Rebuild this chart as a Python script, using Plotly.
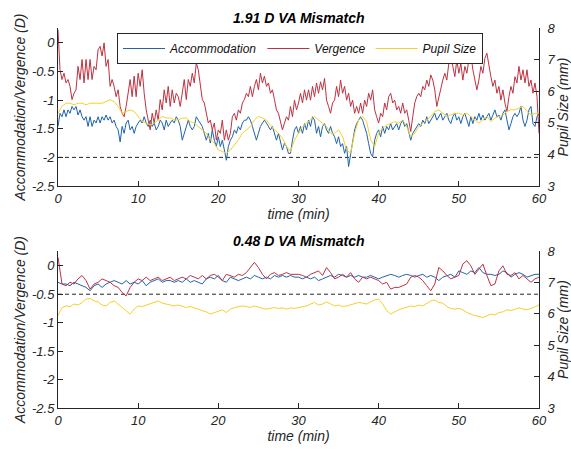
import plotly.graph_objects as go

# ---------------- data ----------------
t_fine = [i * 0.25 for i in range(241)]
t_coarse = [i * 0.5 for i in range(121)]

# Top panel: 1.91 D VA mismatch
top_vergence = [
    0.23, -0.47, -0.64, -0.53, -0.70, -0.64, -0.76, -0.99, -0.88, -0.82, -0.41, -0.64, -0.29, -0.70, -0.29, -0.64, -0.29, -0.64, -0.41, -0.47,
    -0.12, -0.06, -0.23, 0.0, -0.41, -0.29, -0.76, -0.64, -0.76, -0.94, -0.82, -1.11, -1.23, -1.29, -1.11, -0.88, -0.64, -0.94, -0.58, -0.94,
    -0.53, -0.76, -0.47, -0.88, -1.17, -1.35, -1.52, -1.23, -1.40, -1.17, -1.35, -0.99, -1.17, -0.82, -1.05, -0.76, -1.11, -0.82, -1.05, -0.88,
    -0.94, -1.11, -0.88, -0.64, -0.99, -0.64, -0.76, -0.53, -0.70, -0.35, -0.47, -0.76, -0.99, -1.05, -1.23, -1.40, -1.35, -1.52, -1.40, -1.70,
    -1.52, -1.58, -1.35, -1.70, -1.52, -1.70, -1.58, -1.29, -1.23, -1.35, -1.17, -1.23, -1.05, -0.99, -0.88, -0.94, -0.76, -0.94, -0.76, -0.64,
    -0.82, -0.53, -0.70, -0.58, -0.76, -0.70, -0.88, -0.82, -0.99, -1.17, -1.23, -1.40, -1.52, -1.40, -1.29, -1.35, -1.11, -1.29, -1.00, -1.17,
    -1.05, -0.88, -1.05, -0.82, -1.00, -0.82, -1.00, -0.76, -0.94, -0.70, -0.88, -0.68, -0.82, -0.62, -1.00, -1.11, -1.23, -1.05, -1.00, -0.76,
    -0.94, -0.65, -0.88, -0.76, -1.00, -0.88, -1.11, -1.00, -1.23, -1.11, -1.23, -1.05, -1.23, -1.00, -1.11, -0.88, -1.00, -0.82, -1.17, -1.29,
    -1.40, -1.23, -1.29, -1.05, -1.17, -0.94, -0.88, -1.05, -1.00, -1.17, -1.11, -1.23, -1.05, -1.23, -1.17, -1.35, -1.55, -1.29, -1.05, -0.94,
    -0.88, -0.94, -0.76, -0.82, -0.65, -0.76, -0.56, -0.65, -0.82, -1.11, -0.94, -0.82, -0.65, -0.53, -0.65, -0.36, -0.24, -0.41, -0.59, -0.30,
    -0.53, -0.36, -0.65, -0.41, -0.53, -0.30, -0.21, -0.47, -0.65, -0.82, -0.65, -0.41, -0.53, -0.27, -0.18, -0.41, -0.59, -0.76, -0.65, -0.88,
    -0.76, -1.00, -0.82, -1.05, -1.20, -0.94, -0.76, -0.88, -0.59, -0.70, -0.41, -0.65, -0.47, -0.70, -0.47, -0.76, -0.65, -0.88, -0.70, -0.94,
    -1.58,
]
top_accommodation = [
    -1.46, -1.23, -1.29, -1.17, -1.29, -1.17, -1.23, -1.11, -1.17, -1.11, -1.26, -1.17, -1.29, -1.35, -1.29, -1.46, -1.29, -1.46, -1.35, -1.40,
    -1.29, -1.40, -1.29, -1.35, -1.26, -1.35, -1.29, -1.40, -1.35, -1.46, -1.52, -1.73, -1.46, -1.58, -1.40, -1.35, -1.52, -1.46, -1.58, -1.46,
    -1.40, -1.35, -1.40, -1.29, -1.40, -1.46, -1.35, -1.46, -1.40, -1.52, -1.46, -1.35, -1.40, -1.52, -1.35, -1.46, -1.40, -1.35, -1.40, -1.29,
    -1.35, -1.46, -1.70, -1.58, -1.46, -1.35, -1.46, -1.52, -1.46, -1.29, -1.35, -1.40, -1.46, -1.58, -1.70, -1.58, -1.75, -1.52, -1.70, -1.81,
    -1.64, -1.81, -1.70, -1.87, -2.05, -1.81, -1.70, -1.64, -1.52, -1.58, -1.46, -1.52, -1.40, -1.35, -1.35, -1.29, -1.35, -1.46, -1.58, -1.70,
    -1.58, -1.46, -1.40, -1.35, -1.40, -1.46, -1.52, -1.46, -1.58, -1.70, -1.58, -1.75, -1.87, -1.75, -1.81, -1.93, -1.93, -1.70, -1.52, -1.46,
    -1.58, -1.46, -1.58, -1.41, -1.52, -1.35, -1.46, -1.29, -1.35, -1.58, -1.46, -1.64, -1.46, -1.41, -1.52, -1.58, -1.46, -1.58, -1.64, -1.76,
    -1.64, -1.81, -1.76, -1.93, -1.81, -2.16, -1.93, -1.70, -1.52, -1.41, -1.35, -1.29, -1.35, -1.46, -1.58, -1.76, -1.93, -1.99, -1.70, -1.58,
    -1.52, -1.64, -1.46, -1.58, -1.46, -1.52, -1.41, -1.52, -1.46, -1.41, -1.52, -1.41, -1.35, -1.46, -1.41, -1.58, -1.70, -1.58, -1.52, -1.46,
    -1.41, -1.46, -1.35, -1.41, -1.29, -1.41, -1.35, -1.29, -1.23, -1.35, -1.29, -1.23, -1.35, -1.29, -1.23, -1.35, -1.41, -1.29, -1.23, -1.35,
    -1.29, -1.41, -1.29, -1.23, -1.35, -1.46, -1.29, -1.41, -1.29, -1.35, -1.23, -1.35, -1.26, -1.35, -1.29, -1.23, -1.35, -1.26, -1.17, -1.29,
    -1.26, -1.35, -1.23, -1.17, -1.35, -1.52, -1.41, -1.29, -1.23, -1.29, -1.23, -1.11, -1.35, -1.46, -1.35, -1.17, -1.11, -1.41, -1.46, -1.29,
    -1.23,
]
top_pupil = [
    5.30, 5.52, 5.62, 5.62, 5.57, 5.62, 5.62, 5.57, 5.62, 5.62,
    5.62, 5.62, 5.67, 5.73, 5.67, 5.52, 5.30, 5.36, 5.41, 5.36,
    5.20, 5.04, 4.99, 4.93, 4.99, 5.09, 5.20, 5.15, 5.15, 5.09,
    5.09, 5.15, 5.15, 5.04, 4.99, 4.88, 4.78, 4.67, 4.46, 4.35,
    4.14, 4.09, 4.04, 4.14, 4.30, 4.46, 4.67, 4.78, 4.88, 5.09,
    5.20, 5.15, 5.09, 4.93, 4.78, 4.67, 4.51, 4.25, 4.09, 4.46,
    4.67, 4.88, 4.99, 5.09, 5.20, 5.09, 4.99, 4.88, 4.67, 4.67,
    4.78, 4.56, 4.14, 4.04, 4.67, 5.09, 5.20, 5.04, 4.46, 4.25,
    4.67, 4.83, 4.93, 4.99, 5.04, 4.99, 5.09, 4.88, 4.56, 4.67,
    4.88, 4.99, 5.09, 5.20, 5.36, 5.41, 5.30, 5.20, 5.25, 5.30,
    5.30, 5.25, 5.30, 5.20, 5.09, 4.99, 5.09, 5.20, 5.04, 5.15,
    5.20, 5.25, 5.36, 5.41, 5.41, 5.46, 5.52, 5.36, 5.25, 5.30,
    5.30,
]

# Bottom panel: 0.48 D VA mismatch
bottom_vergence = [
    0.15, -0.32, -0.35, -0.29, -0.32, -0.23, -0.17, -0.26, -0.41, -0.32,
    -0.29, -0.23, -0.26, -0.29, -0.35, -0.38, -0.47, -0.53, -0.38, -0.29,
    -0.23, -0.26, -0.20, -0.26, -0.23, -0.20, -0.26, -0.23, -0.20, -0.26,
    -0.23, -0.20, -0.23, -0.17, -0.20, -0.23, -0.17, -0.23, -0.17, -0.15,
    -0.20, -0.26, -0.15, -0.17, -0.20, -0.15, -0.17, -0.12, -0.03, 0.06,
    -0.03, -0.15, -0.23, -0.15, -0.12, -0.17, -0.15, -0.12, -0.15, -0.15,
    -0.15, -0.17, -0.20, -0.15, -0.12, -0.09, -0.17, -0.03, -0.12, -0.23,
    -0.20, -0.15, -0.20, -0.12, -0.23, -0.29, -0.20, -0.23, -0.20, -0.23,
    -0.26, -0.32, -0.29, -0.41, -0.38, -0.38, -0.35, -0.32, -0.20, -0.17,
    -0.20, -0.26, -0.35, -0.44, -0.32, -0.03, -0.09, -0.17, -0.23, -0.20,
    -0.17, 0.03, 0.09, 0.0, -0.15, -0.06, 0.03, -0.17, -0.35, -0.32,
    -0.09, 0.0, -0.15, -0.17, -0.12, -0.23, -0.17, -0.23, -0.29, -0.23,
    -0.20,
]
bottom_accommodation = [
    -0.29, -0.32, -0.32, -0.35, -0.29, -0.32, -0.35, -0.38, -0.44, -0.35,
    -0.32, -0.38, -0.32, -0.29, -0.26, -0.29, -0.32, -0.26, -0.32, -0.29,
    -0.32, -0.26, -0.35, -0.29, -0.26, -0.23, -0.29, -0.26, -0.26, -0.29,
    -0.26, -0.29, -0.23, -0.29, -0.26, -0.29, -0.32, -0.23, -0.20, -0.23,
    -0.17, -0.26, -0.29, -0.20, -0.23, -0.26, -0.23, -0.20, -0.23, -0.17,
    -0.20, -0.23, -0.20, -0.23, -0.17, -0.20, -0.17, -0.20, -0.17, -0.20,
    -0.20, -0.23, -0.20, -0.23, -0.20, -0.26, -0.23, -0.20, -0.17, -0.20,
    -0.15, -0.17, -0.20, -0.17, -0.20, -0.17, -0.20, -0.20, -0.17, -0.20,
    -0.23, -0.20, -0.17, -0.15, -0.17, -0.20, -0.17, -0.15, -0.17, -0.20,
    -0.17, -0.15, -0.20, -0.17, -0.20, -0.26, -0.20, -0.17, -0.15, -0.20,
    -0.09, -0.12, -0.15, -0.09, -0.12, -0.03, -0.12, -0.15, -0.15, -0.17,
    -0.15, -0.09, -0.12, -0.20, -0.15, -0.12, -0.15, -0.20, -0.17, -0.15,
    -0.15,
]
bottom_pupil = [
    5.95, 6.20, 6.25, 6.23, 6.31, 6.28, 6.36, 6.47, 6.49, 6.41,
    6.38, 6.28, 6.25, 6.36, 6.41, 6.31, 6.20, 6.10, 5.99, 6.15,
    6.25, 6.23, 6.28, 6.31, 6.36, 6.41, 6.34, 6.31, 6.28, 6.25,
    6.28, 6.23, 6.20, 6.23, 6.20, 6.15, 6.10, 6.06, 5.99, 6.04,
    6.10, 6.13, 6.04, 6.15, 6.20, 6.23, 6.25, 6.23, 6.20, 6.25,
    6.20, 6.17, 6.15, 6.17, 6.20, 6.17, 6.19, 6.15, 6.19, 6.17,
    6.20, 6.23, 6.25, 6.31, 6.36, 6.28, 6.31, 6.38, 6.31, 6.25,
    6.28, 6.23, 6.25, 6.28, 6.31, 6.36, 6.34, 6.31, 6.38, 6.44,
    6.47, 6.31, 6.10, 5.99, 6.06, 6.13, 6.17, 6.20, 6.25, 6.23,
    6.28, 6.25, 6.34, 6.41, 6.44, 6.36, 6.34, 6.23, 6.17, 6.15,
    6.17, 6.13, 6.04, 5.99, 5.94, 5.92, 5.88, 5.94, 5.99, 5.96,
    6.04, 6.06, 6.13, 6.10, 6.15, 6.19, 6.15, 6.13, 6.17, 6.23,
    6.28,
]

mismatch_top = -2.0
mismatch_bottom = -0.5
ref_x = [0, 60]

titles = ["1.91 D VA Mismatch", "0.48 D VA Mismatch"]
x_ticks = [0, 10, 20, 30, 40, 50, 60]
left_ticks = [-2.5, -2, -1.5, -1, -0.5, 0]
left_ticktext = ["-2.5", "-2", "-1.5", "-1", "-0.5", "0"]
right_ticks = [3, 4, 5, 6, 7, 8]

# ---------------- styling ----------------
FONT = "Liberation Sans, Arial, sans-serif"
AX = "#262626"
C_ACC = "#1f63ad"
C_VER = "#c0313f"
C_PUP = "#f6d02b"

fig = go.Figure()

def add_panel(xa, ya_l, ya_r, acc, ver, pup, ref, t_acc, t_ver, show):
    fig.add_trace(go.Scatter(x=ref_x, y=[ref, ref], xaxis=xa, yaxis=ya_l, mode="lines",
                             line=dict(color=AX, width=1, dash="4px,3px"), showlegend=False,
                             hoverinfo="skip"))
    fig.add_trace(go.Scatter(x=t_acc, y=acc, xaxis=xa, yaxis=ya_l, mode="lines",
                             name="Accommodation", line=dict(color=C_ACC, width=1),
                             showlegend=show))
    fig.add_trace(go.Scatter(x=t_ver, y=ver, xaxis=xa, yaxis=ya_l, mode="lines",
                             name="Vergence", line=dict(color=C_VER, width=1),
                             showlegend=show))
    fig.add_trace(go.Scatter(x=t_coarse, y=pup, xaxis=xa, yaxis=ya_r, mode="lines",
                             name="Pupil Size", line=dict(color=C_PUP, width=1),
                             showlegend=show))

add_panel("x", "y", "y2", top_accommodation, top_vergence, top_pupil, mismatch_top,
          t_fine, t_fine, True)
add_panel("x2", "y3", "y4", bottom_accommodation, bottom_vergence, bottom_pupil,
          mismatch_bottom, t_coarse, t_coarse, False)

W, H = 571, 450
top_dom = [1 - 186 / H, 1 - 28 / H]
bot_dom = [1 - 408 / H, 1 - 251 / H]

tickfont = dict(family=FONT, size=13, color=AX, style="italic")
titlefont = dict(family=FONT, size=14, color=AX, style="italic")

def xaxis(anchor):
    return dict(domain=[0, 1], anchor=anchor, range=[0, 60], tickvals=x_ticks,
                ticks="inside", ticklen=5, tickcolor=AX, showline=True, linecolor=AX,
                linewidth=1, showgrid=False, zeroline=False, tickfont=tickfont,
                title=dict(text="time (min)", font=titlefont, standoff=2),
                automargin=False)

def yleft(anchor, dom):
    return dict(domain=dom, anchor=anchor, range=[-2.5, 0.26], tickvals=left_ticks,
                ticktext=left_ticktext, ticks="inside", ticklen=5, tickcolor=AX,
                showline=True, linecolor=AX, linewidth=1, showgrid=False, zeroline=False,
                tickfont=tickfont,
                title=dict(text="Accommodation/Vergence (D)", font=titlefont, standoff=3),
                automargin=False)

def yright(anchor, over):
    return dict(overlaying=over, anchor=anchor, side="right", range=[3, 8],
                tickvals=right_ticks, ticks="inside", ticklen=5, tickcolor=AX,
                showline=True, linecolor=AX, linewidth=1, showgrid=False, zeroline=False,
                tickfont=tickfont, ticklabelstandoff=5,
                title=dict(text="Pupil Size (mm)", font=titlefont, standoff=10),
                automargin=False)

fig.update_layout(
    width=W, height=H,
    margin=dict(l=58, r=32, t=0, b=0),
    paper_bgcolor="white", plot_bgcolor="white",
    font=dict(family=FONT, color=AX),
    xaxis=xaxis("y"),
    yaxis=yleft("x", top_dom),
    yaxis2=yright("x", "y"),
    xaxis2=xaxis("y3"),
    yaxis3=yleft("x2", bot_dom),
    yaxis4=yright("x2", "y3"),
    showlegend=True,
    legend=dict(orientation="h", x=(117 - 58) / (W - 90), y=1 - 33 / H,
                xref="paper", yref="paper",
                xanchor="left", yanchor="top",
                bgcolor="white", bordercolor=AX, borderwidth=1,
                font=dict(family=FONT, size=12, color="#111111", style="italic"),
                itemwidth=42, tracegroupgap=0),
    annotations=[
        dict(text=titles[0], xref="paper", yref="paper", x=0.5, y=1 - 18 / H,
             xanchor="center", yanchor="middle", showarrow=False,
             font=dict(family=FONT, size=14, color="#000000", weight="bold", style="italic")),
        dict(text=titles[1], xref="paper", yref="paper", x=0.5, y=1 - 241 / H,
             xanchor="center", yanchor="middle", showarrow=False,
             font=dict(family=FONT, size=14, color="#000000", weight="bold", style="italic")),
    ],
)

fig.write_html("out.html", config={"displayModeBar": False})
